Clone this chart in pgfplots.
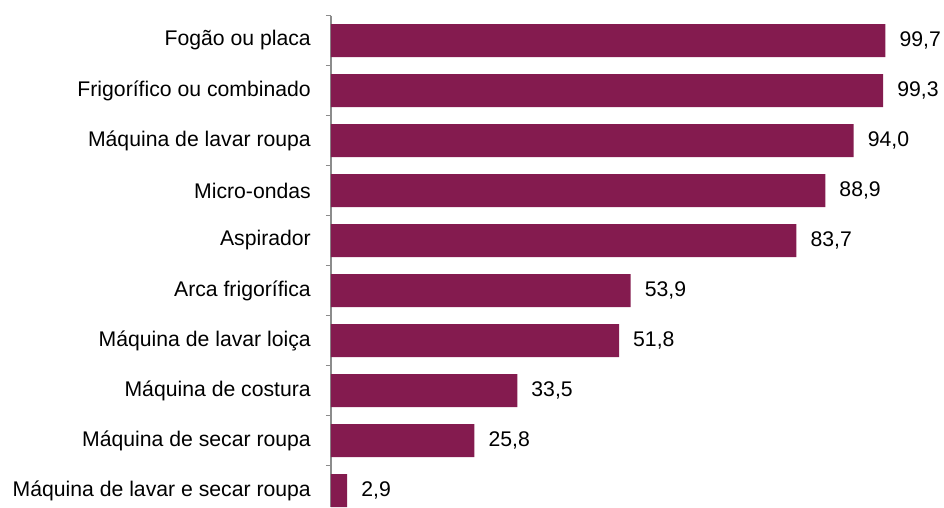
\documentclass[border=0pt]{standalone}
\usepackage{pgfplots}
\pgfplotsset{compat=1.18}
\usepackage{fontspec}
\setmainfont{Liberation Sans}
\definecolor{barc}{HTML}{841B4F}
\definecolor{axc}{HTML}{8C8C8C}
\begin{document}
\begin{tikzpicture}[x=1pt,y=1pt]
\begin{axis}[
  at={(0pt,0pt)}, anchor=south west,
  scale only axis, width=556pt, height=491.5pt,
  xbar, bar width=33pt,
  xmin=0, xmax=100,
  ymin=-0.5, ymax=9.33,
  y dir=reverse,
  axis x line=none,
  axis y line*=left,
  y axis line style={draw=axc, line width=1.5pt},
  ytick={0,...,9},
  yticklabels={Fogão ou placa,Frigorífico ou combinado,Máquina de lavar roupa,Micro-ondas,Aspirador,Arca frigorífica,Máquina de lavar loiça,Máquina de costura,Máquina de secar roupa,Máquina de lavar e secar roupa},
  major tick length=0pt,
  minor ytick={-0.5,0.5,1.5,2.5,3.5,4.5,5.5,6.5,7.5,8.5},
  minor tick length=5pt,
  tick align=outside,
  minor tick style={draw=axc, line width=1.5pt},
  yticklabel style={font=\fontsize{21.2}{25}\selectfont, inner sep=0pt, anchor=east, xshift=-20pt},
  nodes near coords,
  point meta=x,
  every node near coord/.append style={font=\fontsize{21.2}{25}\selectfont, anchor=west, xshift=14pt, inner sep=0pt, text=black,
    /pgf/number format/.cd, fixed, fixed zerofill, precision=1, use comma, assume math mode=true},
  clip=false,
]
\addplot[fill=barc, draw=none] coordinates {
(99.7,0) (99.3,1) (94.0,2) (88.9,3) (83.7,4) (53.9,5) (51.8,6) (33.5,7) (25.8,8) (2.9,9)
};
\end{axis}
\pgfresetboundingbox
\useasboundingbox (-331pt,0pt) rectangle (613pt,507pt);
\end{tikzpicture}
\end{document}
